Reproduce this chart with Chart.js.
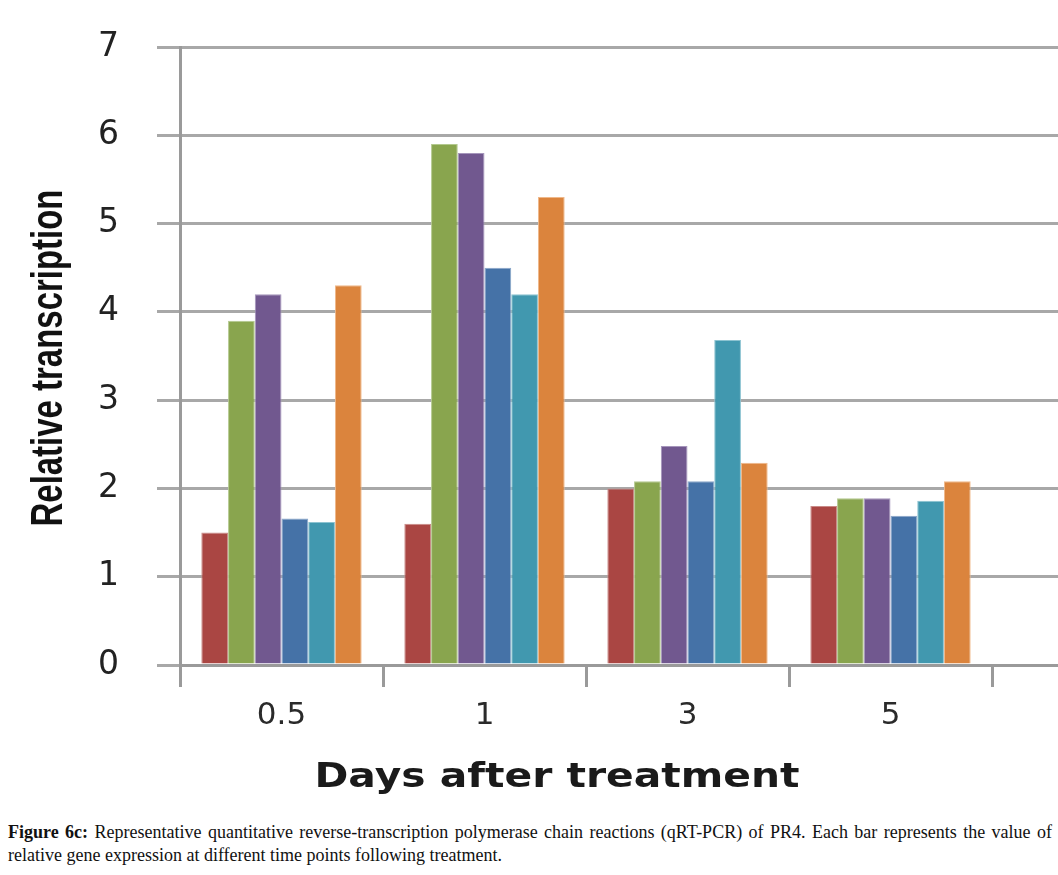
<!DOCTYPE html>
<html>
<head>
<meta charset="utf-8">
<script src="https://cdn.jsdelivr.net/npm/chart.js@4"></script>
<style>
  html, body { margin: 0; padding: 0; background: #fff; overflow: hidden; }
  body { width: 1058px; height: 875px; position: relative; }
  #wrap { position: absolute; left: 0; top: 0; width: 1240px; height: 800px; }
  #caption {
    position: absolute; left: 8px; top: 821px; width: 1044px;
    font-family: "Liberation Serif", serif; font-size: 18px; line-height: 23px;
    color: #111; text-align: justify;
  }
</style>
</head>
<body>
<div id="wrap"><canvas id="qpcrChart"></canvas></div>
<div id="caption"><b>Figure 6c:</b> Representative quantitative reverse-transcription polymerase chain reactions (qRT-PCR) of PR4. Each bar represents the value of relative gene expression at different time points following treatment.</div>
<script>
// days after treatment (last slot is empty, as in the original axis)
const days = ['0.5', '1', '3', '5', ''];

const seriesRed    = [1.5, 1.6, 2.0, 1.8];
const seriesGreen  = [3.9, 5.9, 2.08, 1.89];
const seriesPurple = [4.2, 5.8, 2.48, 1.89];
const seriesBlue   = [1.66, 4.5, 2.08, 1.69];
const seriesTeal   = [1.62, 4.2, 3.68, 1.86];
const seriesOrange = [4.3, 5.3, 2.29, 2.08];

const yTicks = [0, 1, 2, 3, 4, 5, 6, 7];

const colors = ['#AA4643', '#89A54E', '#71588F', '#4572A7', '#4198AF', '#DB843D'];
const edges  = ['#c98a87', '#b3c98e', '#a595bb', '#8aa6c9', '#8cc3d1', '#efb88a'];

const allSeries = [seriesRed, seriesGreen, seriesPurple, seriesBlue, seriesTeal, seriesOrange];

const axisTitles = {
  id: 'axisTitles',
  afterDraw(chart) {
    const ctx = chart.ctx;
    ctx.save();
    ctx.fillStyle = '#111';

    // y title, squeezed like the original
    const yText = 'Relative transcription';
    ctx.font = 'bold 44px "Liberation Sans"';
    const yw = ctx.measureText(yText).width;
    ctx.translate(62, 358);
    ctx.rotate(-Math.PI / 2);
    ctx.scale(337 / yw, 1);
    ctx.textAlign = 'center';
    ctx.textBaseline = 'alphabetic';
    ctx.fillText(yText, 0, 0);
    ctx.restore();

    ctx.save();
    ctx.fillStyle = '#1a1a1a';
    const xText = 'Days after treatment';
    ctx.font = 'bold 34px "DejaVu Sans"';
    const xw = ctx.measureText(xText).width;
    ctx.translate(557, 787);
    ctx.scale(485 / xw, 1);
    ctx.textAlign = 'center';
    ctx.textBaseline = 'alphabetic';
    ctx.fillText(xText, 0, 0);
    ctx.restore();
  }
};

const ctx = document.getElementById('qpcrChart').getContext('2d');
new Chart(ctx, {
  type: 'bar',
  data: {
    labels: days,
    datasets: allSeries.map((vals, i) => ({
      label: 'Series ' + (i + 1),
      data: vals,
      backgroundColor: colors[i],
      borderColor: edges[i],
      borderWidth: 1,
      categoryPercentage: 0.79,
      barPercentage: 1.0
    }))
  },
  options: {
    responsive: true,
    maintainAspectRatio: false,
    animation: false,
    layout: { padding: { top: 47, left: 0, right: 45, bottom: 0 } },
    plugins: {
      legend: { display: false },
      tooltip: { enabled: false }
    },
    scales: {
      x: {
        offset: true,
        grid: {
          offset: true,
          drawOnChartArea: false,
          drawTicks: true,
          tickLength: 22,
          color: '#9a9a9a',
          lineWidth: 3
        },
        border: { display: true, color: '#9a9a9a', width: 3 },
        ticks: {
          color: '#2a2a2a',
          font: { family: 'DejaVu Sans', size: 31 },
          padding: 10
        },
        afterFit(scale) { scale.height = 135; }
      },
      y: {
        min: 0,
        max: 7,
        afterBuildTicks(scale) { scale.ticks = yTicks.map(v => ({ value: v })); },
        grid: {
          color: '#a8a8a8',
          lineWidth: 3,
          tickLength: 23
        },
        border: { display: true, color: '#9a9a9a', width: 3 },
        ticks: {
          color: '#222',
          font: { family: 'DejaVu Sans', size: 33 },
          padding: 38
        },
        afterFit(scale) {
          scale.width = 180;
          scale.paddingTop = 0;
          scale.paddingBottom = 0;
        }
      }
    }
  },
  plugins: [axisTitles]
});
</script>
</body>
</html>
